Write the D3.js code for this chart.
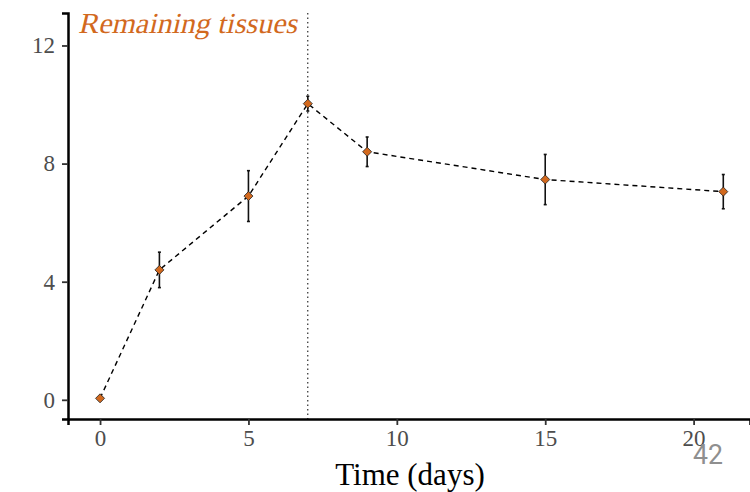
<!DOCTYPE html>
<html>
<head>
<meta charset="utf-8">
<script src="https://cdn.jsdelivr.net/npm/d3@7"></script>
<style>
body { margin:0; background:#fff; }
</style>
</head>
<body>
<div id="chart-area"></div>
<script>
// data
var days = [0, 2, 5, 7, 9, 15, 21];
var values = [0.05, 4.4, 6.9, 10.03, 8.4, 7.46, 7.05];
var errors = [0.05, 0.6, 0.86, 0.25, 0.5, 0.85, 0.58];
var xTicks = [0, 5, 10, 15, 20];
var yTicks = [0, 4, 8, 12];

var width = 750, height = 492;
var orange = "#d2691e";
var serif = "'Liberation Serif', 'Times New Roman', serif";

var svg = d3.select("#chart-area")
    .append("svg")
    .attr("width", width)
    .attr("height", height);

// scales
var x = d3.scaleLinear().domain([-1.08, 21.9]).range([68, 750]);
var y = d3.scaleLinear().domain([-0.65, 13.1]).range([419, 13]);

// y axis
var yAxisGroup = svg.append("g")
    .attr("transform", "translate(68,0)")
    .call(d3.axisLeft(y).tickValues(yTicks).tickSize(6).tickPadding(7));
yAxisGroup.select(".domain").attr("stroke", "#000").attr("stroke-width", 2.5);

// x axis
var xAxisGroup = svg.append("g")
    .attr("transform", "translate(0,419)")
    .call(d3.axisBottom(x).tickValues(xTicks).tickSize(6).tickPadding(5));
xAxisGroup.select(".domain").attr("stroke", "#000").attr("stroke-width", 2.5);

svg.selectAll(".tick line").attr("stroke", "#333").attr("stroke-width", 1.8);
svg.selectAll(".tick text")
    .attr("fill", "#4d4d4d")
    .attr("font-family", serif)
    .attr("font-size", "23px");

// x axis label
svg.append("text")
    .attr("x", 410)
    .attr("y", 485)
    .attr("text-anchor", "middle")
    .attr("font-family", serif)
    .attr("font-size", "31px")
    .attr("fill", "#000")
    .text("Time (days)");

// vertical dotted line at day 7
svg.append("line")
    .attr("x1", x(7)).attr("x2", x(7))
    .attr("y1", 13).attr("y2", 419)
    .attr("stroke", "#000")
    .attr("stroke-width", 1)
    .attr("stroke-dasharray", "1.5,3");

// dashed line between points
var line = d3.line()
    .x(function(d, i) { return x(days[i]); })
    .y(function(d) { return y(d); });

svg.append("path")
    .datum(values)
    .attr("d", line)
    .attr("fill", "none")
    .attr("stroke", "#000")
    .attr("stroke-width", 1.4)
    .attr("stroke-dasharray", "5,4");

// error bars
var eb = svg.selectAll(".err")
    .data(values)
    .enter().append("g")
    .attr("class", "err");

eb.append("line")
    .attr("x1", function(d, i) { return x(days[i]); })
    .attr("x2", function(d, i) { return x(days[i]); })
    .attr("y1", function(d, i) { return y(d + errors[i]); })
    .attr("y2", function(d, i) { return y(d - errors[i]); })
    .attr("stroke", "#111")
    .attr("stroke-width", 1.6);

[1, -1].forEach(function(s) {
    eb.append("line")
        .attr("x1", function(d, i) { return x(days[i]) - 1.5; })
        .attr("x2", function(d, i) { return x(days[i]) + 1.5; })
        .attr("y1", function(d, i) { return y(d + s * errors[i]); })
        .attr("y2", function(d, i) { return y(d + s * errors[i]); })
        .attr("stroke", "#111")
        .attr("stroke-width", 1.6);
});

// diamond markers
svg.selectAll(".pt")
    .data(values)
    .enter().append("path")
    .attr("class", "pt")
    .attr("d", d3.symbol().type(d3.symbolDiamond2).size(52))
    .attr("transform", function(d, i) { return "translate(" + x(days[i]) + "," + y(d) + ")"; })
    .attr("fill", orange)
    .attr("stroke", "#222")
    .attr("stroke-width", 0.8);

// panel title (slanted serif)
svg.append("text")
    .attr("transform", "translate(78,33) skewX(-13)")
    .attr("font-family", serif)
    .attr("font-size", "29px")
    .attr("fill", orange)
    .attr("textLength", 219)
    .attr("lengthAdjust", "spacingAndGlyphs")
    .text("Remaining tissues");

// slide number
svg.append("text")
    .attr("x", 693)
    .attr("y", 464)
    .attr("font-family", "Roboto, sans-serif")
    .attr("font-size", "28px")
    .attr("fill", "#8f8f8f")
    .attr("textLength", 30)
    .attr("lengthAdjust", "spacingAndGlyphs")
    .text("42");
</script>
</body>
</html>
